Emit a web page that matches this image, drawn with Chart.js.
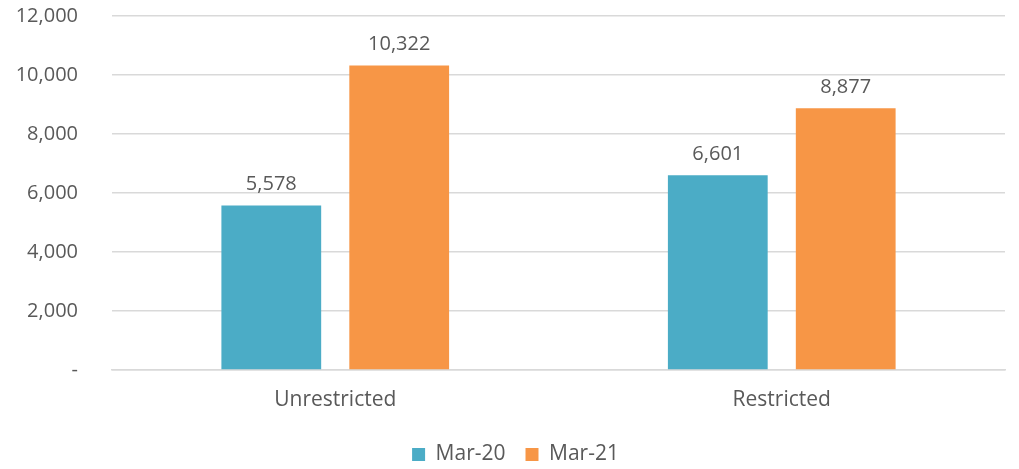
<!DOCTYPE html>
<html>
<head>
<meta charset="utf-8">
<script src="https://cdn.jsdelivr.net/npm/chart.js@4.4.0/dist/chart.umd.min.js"></script>
<style>
  html, body { margin: 0; padding: 0; background: #fff; }
  #wrap { width: 1019px; height: 469px; }
</style>
</head>
<body>
<div id="wrap"><canvas id="myChart" width="1019" height="469"></canvas></div>
<script>
// chart data
const categories = ["Unrestricted", "Restricted"];
const mar20 = [5578, 6601];
const mar21 = [10322, 8877];
const seriesNames = ["Mar-20", "Mar-21"];

const textColor = "#595959";
const fontFamily = "'Open Sans', 'Liberation Sans', sans-serif";

// draws the value above each bar
const barLabels = {
  id: "barLabels",
  afterDatasetsDraw(chart) {
    const ctx = chart.ctx;
    ctx.save();
    ctx.font = "20px " + fontFamily;
    ctx.fillStyle = textColor;
    ctx.textAlign = "center";
    ctx.textBaseline = "bottom";
    chart.data.datasets.forEach((ds, i) => {
      chart.getDatasetMeta(i).data.forEach((bar, j) => {
        ctx.fillText(ds.data[j].toLocaleString("en-US"), bar.x, bar.y - 11);
      });
    });
    ctx.restore();
  }
};

// legend sits a little right of the canvas centre in the original
const legendShift = {
  id: "legendShift",
  afterLayout(chart) {
    chart.legend.left += 13;
    chart.legend.right += 13;
  }
};

new Chart(document.getElementById("myChart"), {
  type: "bar",
  data: {
    labels: categories,
    datasets: [
      {
        label: seriesNames[0],
        data: mar20,
        backgroundColor: "#4BACC6",
        categoryPercentage: 0.573,
        barPercentage: 0.78
      },
      {
        label: seriesNames[1],
        data: mar21,
        backgroundColor: "#F79646",
        categoryPercentage: 0.573,
        barPercentage: 0.78
      }
    ]
  },
  options: {
    responsive: false,
    animation: false,
    layout: { padding: { top: 0, right: 14, left: 0, bottom: 0 } },
    plugins: {
      legend: {
        position: "bottom",
        maxHeight: 45,
        labels: {
          boxWidth: 13,
          boxHeight: 13,
          padding: 20,
          color: textColor,
          font: { family: fontFamily, size: 21 }
        }
      },
      tooltip: { enabled: false }
    },
    scales: {
      x: {
        grid: { display: false, drawTicks: false },
        border: { color: "#D9D9D9", width: 1.5 },
        ticks: { color: textColor, padding: 17, font: { family: fontFamily, size: 21 } },
        afterFit: s => { s.height = 54; }
      },
      y: {
        min: 0,
        max: 12000,
        grid: { color: "#D9D9D9", lineWidth: 1.5, drawTicks: false },
        border: { display: false },
        ticks: {
          stepSize: 2000,
          padding: 34,
          color: textColor,
          font: { family: fontFamily, size: 20 },
          callback: v => v === 0 ? "-" : v.toLocaleString("en-US")
        },
        afterFit: s => {
          s.width = 112;
          s.paddingTop = 16;
          s.paddingBottom = 0;
        }
      }
    }
  },
  plugins: [barLabels, legendShift]
});
</script>
</body>
</html>
